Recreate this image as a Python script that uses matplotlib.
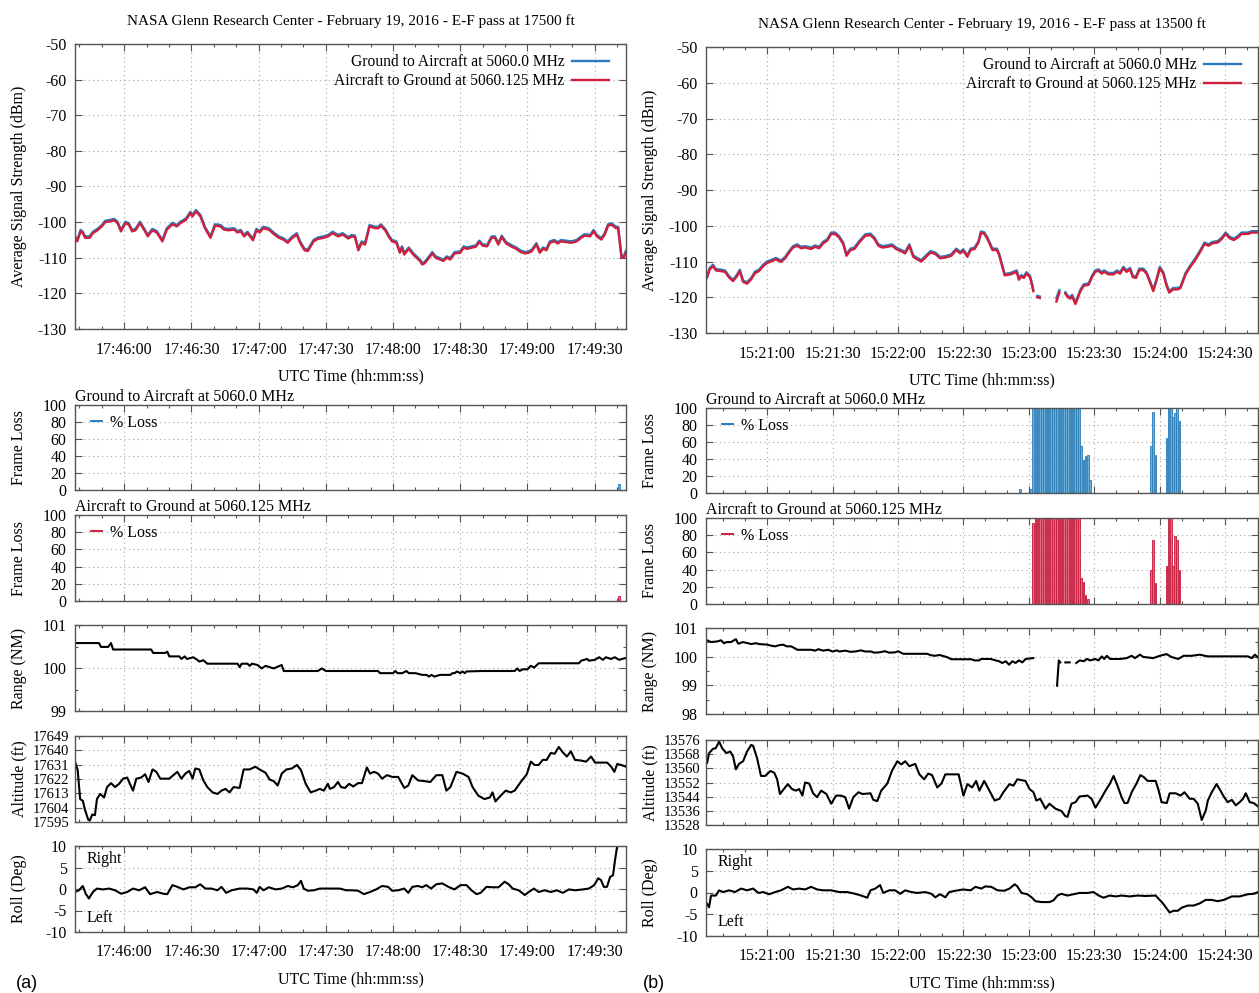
import matplotlib
matplotlib.use("Agg")
import matplotlib.pyplot as plt
from matplotlib.lines import Line2D
from matplotlib.ticker import MultipleLocator, FixedLocator, FuncFormatter, NullFormatter

nan = float("nan")

# ---------------------------------------------------------------------------
# (a) pass at 17500 ft, times in seconds relative to 17:46:00 UTC
# ---------------------------------------------------------------------------
base_a = "17:46:00"
title_a = "NASA Glenn Research Center - February 19, 2016 - E-F pass at 17500 ft"

sig_a_t = [-22, -21, -19.5, -18.5, -17.5, -15.5, -14, -12, -10, -8.5, -6.5, -4.5, -3, -1.5, 0.5, 2, 3.5, 5, 7, 9,
           10.5, 12.5, 14.5, 17, 19, 21.5, 23.5, 25, 27.5, 29.5, 30.5, 32, 34, 36, 38.5, 40.5, 43, 44.5, 46.5, 49,
           50.5, 52, 53.5, 55, 57.5, 59, 60.5, 62, 64.5, 66.5, 69, 71, 73, 74.5, 77, 78.5, 80.5, 82, 84.5, 86.5,
           89, 91, 93, 95.5, 97.5, 100, 101.5, 103, 104.5, 106, 107.5, 109.5, 112, 113.5, 114.5, 116.5, 118, 119.5,
           121.5, 123, 124, 125, 127, 129, 130.5, 132, 133, 134, 135.5, 137.5, 139, 141, 142.5, 144, 145.5, 147.5,
           150, 151.5, 153, 155, 157, 158.5, 160, 162, 164, 165.5, 167, 168.5, 170.5, 173, 175, 177, 179, 180.5,
           182, 184, 185.5, 187, 188.5, 190, 192, 193.5, 195, 197, 199.5, 202, 204, 205.5, 208, 209.5, 211, 213,
           214.5, 216, 217.5, 219.5, 220.5, 222, 223, 224]
sig_a_g2a = [-104.0, -105.0, -102.2, -102.7, -104.0, -104.0, -102.7, -101.9, -100.8, -99.6, -99.4, -99.1, -99.9,
             -102.2, -99.9, -100.3, -102.2, -101.9, -99.9, -101.9, -103.6, -101.9, -102.5, -105.0, -101.7, -100.2,
             -100.8, -99.9, -99.0, -97.1, -98.0, -96.6, -98.0, -101.3, -104.0, -100.6, -100.8, -101.7, -101.9,
             -101.7, -102.5, -102.2, -103.6, -102.7, -104.7, -101.9, -102.5, -101.3, -101.7, -102.8, -104.0, -104.5,
             -105.4, -104.3, -103.1, -105.4, -107.5, -107.7, -105.0, -104.3, -104.0, -103.6, -102.7, -103.6, -103.1,
             -104.2, -103.6, -103.8, -107.5, -105.4, -105.9, -100.8, -101.3, -101.3, -100.6, -101.9, -103.6, -105.0,
             -105.4, -108.2, -106.8, -108.7, -107.1, -108.7, -109.6, -110.5, -111.5, -111.2, -110.1, -108.4, -109.6,
             -110.1, -110.5, -109.6, -110.1, -108.4, -108.2, -106.8, -107.1, -106.8, -106.5, -105.2, -106.2, -106.4,
             -104.0, -104.0, -105.9, -103.8, -105.6, -106.5, -107.1, -108.0, -108.4, -108.2, -107.7, -105.9, -108.2,
             -107.1, -107.5, -105.4, -105.0, -105.6, -105.0, -105.2, -105.4, -105.0, -104.0, -103.4, -103.6, -102.2,
             -103.6, -104.5, -103.1, -100.6, -100.3, -101.3, -101.3, -109.6, -109.6, -108.0]
sig_a_a2g = [-104.4, -105.4, -102.6, -103.1, -104.4, -104.4, -103.1, -102.3, -101.2, -100.0, -99.8, -99.5, -100.3,
             -102.6, -100.3, -100.7, -102.6, -102.3, -100.3, -102.3, -104.0, -102.3, -102.9, -105.4, -102.1, -100.6,
             -101.2, -100.3, -99.4, -97.5, -98.4, -97.0, -98.4, -101.7, -104.4, -101.0, -101.2, -102.1, -102.3,
             -102.1, -102.9, -102.6, -104.0, -103.1, -105.1, -102.3, -102.9, -101.7, -102.1, -103.2, -104.4, -104.9,
             -105.8, -104.7, -103.5, -105.8, -107.9, -108.1, -105.4, -104.7, -104.4, -104.0, -103.1, -104.0, -103.5,
             -104.6, -104.0, -104.2, -107.9, -105.8, -106.3, -101.2, -101.7, -101.7, -101.0, -102.3, -104.0, -105.4,
             -105.8, -108.6, -107.2, -109.1, -107.5, -109.1, -110.0, -110.9, -111.9, -111.6, -110.5, -108.8, -110.0,
             -110.5, -110.9, -110.0, -110.5, -108.8, -108.6, -107.2, -107.5, -107.2, -106.9, -105.6, -106.6, -106.8,
             -104.4, -104.4, -106.3, -104.2, -106.0, -106.9, -107.5, -108.4, -108.8, -108.6, -108.1, -106.3, -108.6,
             -107.5, -107.9, -105.8, -105.4, -106.0, -105.4, -105.6, -105.8, -105.4, -104.4, -103.8, -104.0, -102.6,
             -104.0, -104.9, -103.5, -101.0, -100.7, -101.7, -101.7, -110.0, -110.0, -108.4]

loss_a_g2a_t = [221]
loss_a_g2a = [7]
loss_a_a2g_t = [221]
loss_a_a2g = [6]

rng_a_t = [-22, -11.3, -10.4, -7.2, -5.9, -5, 12, 12.9, 18.3, 19.2, 20.1, 24.6, 25.5, 27, 28, 30.8, 32.6, 33.5,
           35.3, 37.1, 50.6, 51.5, 52.4, 55, 56, 57, 59.5, 61.3, 63.1, 66.7, 70.3, 71.2, 86.4, 88.2, 90, 113.3,
           114.2, 120, 121, 122, 124.1, 126, 127, 130, 133, 135, 136, 137.2, 138.4, 141, 145.6, 146.5, 147.5,
           148.5, 150, 151, 152, 152.8, 160, 174.3, 175.5, 176.5, 177.9, 180, 181.5, 183, 185, 203, 204, 206.6,
           207.5, 210.1, 212, 213.7, 215, 217.3, 219, 220.9, 223.6, 224]
rng_a = [100.58, 100.58, 100.49, 100.49, 100.58, 100.43, 100.43, 100.35, 100.35, 100.38, 100.27, 100.27, 100.21,
         100.27, 100.21, 100.25, 100.19, 100.15, 100.18, 100.10, 100.10, 100.02, 100.10, 100.10, 100.05, 100.10,
         100.07, 99.99, 100.05, 99.99, 100.07, 99.93, 99.93, 99.99, 99.93, 99.93, 99.88, 99.88, 99.93, 99.88, 99.88,
         99.93, 99.88, 99.88, 99.84, 99.84, 99.80, 99.84, 99.80, 99.84, 99.84, 99.88, 99.88, 99.92, 99.88, 99.92,
         99.88, 99.92, 99.93, 99.93, 99.99, 99.93, 99.97, 99.97, 100.05, 100.01, 100.11, 100.11, 100.17, 100.21,
         100.17, 100.19, 100.25, 100.19, 100.25, 100.21, 100.25, 100.19, 100.23, 100.23]

alt_a_t = [-22, -20.8, -19.7, -18.5, -17.6, -16.1, -15.4, -14.3, -13.1, -12.2, -10.8, -9, -7.7, -5.9, -4.1, -2.3,
           -0.5, 1.3, 2.5, 3.9, 5.4, 7.5, 9.3, 10.8, 12.6, 14.3, 16.1, 18.3, 20.1, 21.9, 23.7, 25.5, 27.3, 29, 30.5,
           31.7, 33.5, 35.3, 37.1, 39.4, 41.6, 43.4, 45.2, 47, 48.8, 51.5, 53.3, 55.9, 58.6, 60.4, 63.1, 64.9, 66.7,
           68.5, 70.3, 72.4, 74.8, 77.1, 78.9, 81, 83.2, 85.5, 87.3, 89.1, 90.9, 91.8, 93.6, 95.4, 96.8, 98.6, 100.4,
           102.2, 104.4, 106.1, 108.3, 109.7, 111.5, 113.3, 115.1, 117.3, 119.6, 122.3, 125, 126.8, 128.6, 131.2,
           133.9, 136.6, 139.3, 142, 143.8, 145.6, 148.3, 151, 153.7, 155.5, 158.1, 160.8, 163.2, 164.4, 165.7, 168,
           170.3, 172.5, 174.3, 177, 179.7, 181.5, 183.2, 185, 186.8, 188.6, 190.4, 192.2, 194, 195.8, 197.6, 199.4,
           201.2, 203.9, 206.2, 208.4, 210.2, 212.9, 215.6, 217.4, 218.8, 220.1, 221.9, 224]
alt_a = [17632.9, 17627.6, 17609.4, 17608.3, 17602.9, 17596.5, 17595.9, 17599.7, 17599.3, 17609.4, 17612.6,
         17610.4, 17616.9, 17619.4, 17616.9, 17619.0, 17622.2, 17622.9, 17619.0, 17614.7, 17622.2, 17622.9, 17625.0,
         17620.1, 17628.0, 17626.5, 17622.2, 17622.2, 17622.2, 17624.4, 17626.5, 17622.2, 17625.4, 17627.1, 17622.2,
         17628.6, 17628.0, 17621.1, 17616.9, 17613.6, 17612.6, 17614.7, 17615.8, 17613.6, 17616.9, 17616.4, 17628.0,
         17628.0, 17629.7, 17628.0, 17625.9, 17621.6, 17620.7, 17617.9, 17625.4, 17628.0, 17628.6, 17630.8, 17627.6,
         17619.0, 17613.6, 17614.7, 17615.8, 17614.7, 17619.0, 17615.8, 17616.9, 17620.1, 17616.9, 17616.4, 17619.0,
         17617.3, 17619.4, 17619.4, 17629.3, 17625.4, 17626.5, 17625.4, 17622.2, 17624.4, 17623.3, 17623.3, 17616.4,
         17617.9, 17624.4, 17621.1, 17620.7, 17620.1, 17624.4, 17624.4, 17614.7, 17616.9, 17626.5, 17625.4, 17623.3,
         17616.9, 17611.5, 17609.4, 17610.4, 17613.6, 17607.9, 17611.5, 17614.7, 17613.6, 17614.7, 17620.1, 17625.0,
         17632.9, 17630.8, 17630.8, 17634.0, 17634.0, 17638.3, 17637.9, 17642.1, 17638.7, 17636.1, 17639.4, 17634.0,
         17633.6, 17632.9, 17636.1, 17632.3, 17632.3, 17632.3, 17629.7, 17626.5, 17631.4, 17630.8, 17629.7]
alt_a_ticks = [17595, 17604, 17613, 17622, 17631, 17640, 17649]

roll_a_t = [-22, -20.3, -18.5, -17.2, -15.8, -14, -12.2, -9.5, -6.8, -4.1, -1.4, 1.3, 3.9, 6.6, 9.3, 11.5, 14.7,
            17.4, 19.2, 21.5, 23.7, 26.4, 29, 31.7, 33.9, 36.2, 38.9, 41.6, 43.4, 45.5, 47.9, 51.5, 55, 57.7, 59.2,
            60.4, 62.2, 64.5, 67.6, 70.3, 73, 75.3, 77.5, 78.9, 80.1, 81.9, 84.6, 87.3, 90, 93.6, 96.3, 99, 101.7,
            104.4, 107, 109.7, 112.4, 115.1, 117.8, 119.6, 122.3, 125, 126.8, 128.6, 131.2, 133, 134.8, 137, 139.3,
            142, 144.7, 147.4, 150.1, 152.8, 155, 157.3, 159.1, 161.7, 164.4, 167.1, 169.8, 171.6, 173.4, 176.1,
            178.8, 180.6, 182.9, 185, 187.7, 190.4, 193.1, 195.8, 198.5, 201.2, 204.7, 207.4, 209.8, 211.6, 212.8,
            214.1, 215.5, 216.9, 218.2, 219.1, 220, 220.9]
roll_a = [-0.7, -0.3, 0.7, -1.1, -2.2, -0.7, 0.1, -0.1, 0.1, -0.3, -1.1, -0.7, 0.1, -0.3, 0.4, -1.2, -0.7, -1.1,
          -1.2, 0.9, 0.5, -0.1, 0.4, 0.4, 1.1, 0.1, 0.1, -0.3, 0.5, -0.9, -0.3, 0.1, 0.1, -0.1, -0.9, 0.5, -0.3, 0.4,
          -0.1, 0.1, 0.7, 0.4, 0.9, 1.9, 0.1, -0.4, -0.3, 0.1, 0.1, 0.1, 0.1, -0.3, -0.3, -0.4, -1.2, -0.7, -0.1,
          0.7, 0.5, -0.4, -0.3, 0.1, -0.9, 0.5, 0.7, 0.4, 0.9, 0.1, 1.1, 1.3, 0.5, -0.1, 0.9, 0.9, -0.3, -1.2, -0.9,
          0.5, 0.4, 0.4, 1.7, 1.1, 0.1, -0.3, -1.4, -0.7, 0.1, -0.7, -0.3, -0.7, -0.3, -0.9, -0.1, -0.3, -0.1, 0.1,
          0.9, 2.5, 2.1, 0.5, 0.5, 2.8, 3.2, 6.7, 9.8, 10.6]

# ---------------------------------------------------------------------------
# (b) pass at 13500 ft, times in seconds relative to 15:21:00 UTC
# ---------------------------------------------------------------------------
base_b = "15:21:00"
title_b = "NASA Glenn Research Center - February 19, 2016 - E-F pass at 13500 ft"

sig_b_t = [-27.5, -26.3, -24.8, -23.5, -21, -19.3, -17.4, -15.6, -13.8, -12.5, -11, -9.2, -7.3, -5.5, -3.7, -1.8,
           0, 1.8, 4, 6.4, 8.3, 10.1, 11.9, 13.8, 15.6, 17.4, 20.2, 22, 23.9, 25.7, 27.5, 29.4, 31.2, 33, 34.9,
           36.4, 38.2, 40, 42.2, 45, 47.4, 49.2, 51, 52.9, 55.1, 57.3, 59.1, 61.5, 63.3, 65.2, 67, 68.8, 70.7, 72.5,
           74.9, 77.1, 79.3, 81.7, 84.4, 86.7, 88.5, 89.9, 91.8, 93.3, 95.1, 96.9, 98, 99.5, 101, 103.3, 105.3,
           106.3, 108.9, 111.6, 113.2, 114.4, 115.4, 116.5, 117.7, 118.9, 120.5, 121.5, 122, 123, 123.8, 125, 129,
           132.6, 134, 135, 136.7, 137.8, 139, 139.8, 141.3, 142.3, 143.6, 145.1, 147.4, 148.9, 150.4, 151.9, 153.4,
           154.5, 156.5, 158.8, 160.3, 161.8, 163.3, 164.8, 166.4, 167.6, 169.1, 170.6, 172.4, 173.9, 175.5, 177,
           178.5, 180, 181.6, 183.1, 184.3, 186.1, 188.4, 189.5, 191.8, 194.2, 196.4, 198.3, 200.5, 202.3, 204.2,
           206.5, 208.4, 210.2, 212, 213.9, 215.7, 217.5, 220.3, 222.1, 225]
sig_b_g2a = [-114.1, -111.8, -110.9, -112.1, -112.3, -112.5, -114.1, -115.1, -113.7, -112.3, -115.3, -115.8,
             -114.6, -112.8, -112.3, -110.9, -110.0, -109.6, -109.0, -109.7, -108.7, -107.1, -105.7, -105.2, -105.9,
             -105.7, -106.1, -105.5, -105.9, -104.5, -103.8, -101.9, -101.9, -102.9, -104.7, -108.0, -106.4, -106.1,
             -104.3, -102.4, -102.2, -103.3, -105.2, -105.7, -105.5, -105.2, -106.1, -106.8, -107.3, -105.2, -108.3,
             -109.0, -109.6, -108.5, -107.1, -107.5, -108.7, -108.5, -108.0, -106.4, -107.3, -106.6, -108.3, -106.4,
             -106.1, -104.3, -101.6, -101.8, -103.3, -106.4, -106.4, -107.7, -113.5, -113.2, -112.8, -112.5, -114.7,
             -113.8, -114.2, -113.0, -114.0, -116.4, -117.9, nan, -119.6, -119.8, nan, -120.2, -118.0, nan, -118.6,
             -119.6, -120.0, -119.3, -121.5, -120.0, -117.9, -116.4, -116.1, -114.0, -112.5, -112.2, -113.0, -112.5,
             -113.2, -113.2, -112.5, -113.0, -111.5, -112.5, -111.8, -114.0, -114.2, -112.0, -112.0, -113.0, -115.4,
             -117.9, -114.9, -111.5, -113.0, -116.4, -118.3, -117.4, -117.4, -117.0, -113.2, -110.9, -109.0, -107.1,
             -104.7, -105.2, -104.5, -104.3, -103.3, -101.9, -103.1, -103.6, -102.9, -101.9, -101.9, -101.5, -101.5]
sig_b_a2g = [-114.5, -112.2, -111.3, -112.5, -112.7, -112.9, -114.5, -115.5, -114.1, -112.7, -115.7, -116.2,
             -115.0, -113.2, -112.7, -111.3, -110.4, -110.0, -109.4, -110.1, -109.1, -107.5, -106.1, -105.6, -106.3,
             -106.1, -106.5, -105.9, -106.3, -104.9, -104.2, -102.3, -102.3, -103.3, -105.1, -108.4, -106.8, -106.5,
             -104.7, -102.8, -102.6, -103.7, -105.6, -106.1, -105.9, -105.6, -106.5, -107.2, -107.7, -105.6, -108.7,
             -109.4, -110.0, -108.9, -107.5, -107.9, -109.1, -108.9, -108.4, -106.8, -107.7, -107.0, -108.7, -106.8,
             -106.5, -104.7, -102.0, -102.2, -103.7, -106.8, -106.8, -108.1, -113.9, -113.6, -113.2, -112.9, -115.1,
             -114.2, -114.6, -113.4, -114.4, -116.8, -118.3, nan, -120.0, -120.2, nan, -121.2, -118.6, nan, -119.0,
             -120.0, -120.4, -119.7, -121.9, -120.4, -118.3, -116.8, -116.5, -114.4, -112.9, -112.6, -113.4, -112.9,
             -113.6, -113.6, -112.9, -113.4, -111.9, -112.9, -112.2, -114.4, -114.6, -112.4, -112.4, -113.4, -115.8,
             -118.3, -115.3, -111.9, -113.4, -116.8, -118.7, -117.8, -117.8, -117.4, -113.6, -111.3, -109.4, -107.5,
             -105.1, -105.6, -104.9, -104.7, -103.7, -102.3, -103.5, -104.0, -103.3, -102.3, -102.3, -101.9, -101.9]

loss_b_g2a_t = [116, 121, 122, 123, 124, 125, 126, 127, 128, 129, 130, 131, 132, 133, 134, 135, 136, 137, 138, 139,
                140, 141, 142, 143, 144, 145, 146, 147, 148, 176, 177, 178, 183, 184, 185, 186, 187, 188, 189]
loss_b_g2a = [5, 5, 100, 100, 100, 100, 100, 100, 100, 100, 100, 100, 100, 100, 100, 100, 100, 100, 100, 100,
              100, 100, 100, 100, 55, 39, 44, 45, 15, 55, 95, 45, 65, 100, 100, 90, 94, 100, 85]
loss_b_a2g_t = [122, 123, 124, 125, 126, 127, 128, 129, 130, 131, 132, 133, 134, 135, 136, 137, 138, 139, 140,
                141, 142, 143, 144, 145, 146, 147, 176, 177, 178, 183, 184, 185, 186, 187, 188, 189]
loss_b_a2g = [94, 100, 100, 100, 100, 100, 100, 100, 100, 100, 100, 100, 100, 100, 100, 100, 100, 100, 100,
              100, 100, 100, 30, 26, 11, 6, 40, 74, 25, 44, 100, 100, 44, 79, 74, 40]

rng_b_t = [-27.5, -25.7, -22.9, -21.1, -19.8, -18.4, -16.5, -14.3, -13.2, -11, -7.3, -5, -3.7, 0, 2, 3.7, 5.5,
           7.3, 9, 11, 12.5, 13.8, 20.2, 22, 23.5, 25.7, 28, 30, 32, 33, 36, 38, 40.4, 43, 45, 47.7, 49, 51.4, 54,
           56, 58.7, 60, 62.4, 73.4, 75, 77.1, 79, 82.6, 84.4, 93.6, 95, 97.3, 98, 102.5, 104.8, 106.3, 107.8,
           109.4, 110.9, 112.4, 113.9, 115.4, 117, 118.5, 122, 127, 132.9, 133.7, 134.4, 135.5, 136.7, 138.7, 140,
           141.7, 143.3, 145.1, 146.6, 148.1, 150.4, 151.9, 153.4, 154.5, 155.7, 157.2, 158.8, 161.8, 164.8, 167.1,
           168.6, 170.9, 172.4, 177, 180, 183.1, 185.3, 188.4, 190.9, 194.6, 198.3, 201.9, 205.6, 213, 220.3,
           222.1, 223.6, 225]
rng_b = [100.57, 100.51, 100.53, 100.57, 100.47, 100.51, 100.51, 100.61, 100.45, 100.51, 100.44, 100.47, 100.44,
         100.42, 100.38, 100.36, 100.40, 100.42, 100.36, 100.36, 100.30, 100.24, 100.24, 100.21, 100.26, 100.21,
         100.24, 100.18, 100.22, 100.18, 100.21, 100.17, 100.18, 100.22, 100.18, 100.18, 100.14, 100.15, 100.19,
         100.14, 100.15, 100.19, 100.10, 100.10, 100.05, 100.03, 100.06, 99.98, 99.91, 99.91, 99.87, 99.87, 99.92,
         99.92, 99.87, 99.84, 99.78, 99.84, 99.72, 99.84, 99.78, 99.87, 99.80, 99.92, 99.95, nan, 98.99, 99.87,
         99.80, nan, 99.80, 99.80, nan, 99.78, 99.87, 99.84, 99.92, 99.87, 99.92, 99.87, 100.01, 99.92, 100.03,
         99.92, 99.92, 99.92, 99.95, 100.03, 99.95, 100.07, 99.99, 99.95, 100.03, 100.09, 99.99, 99.92, 100.03,
         100.03, 100.07, 100.01, 100.01, 100.01, 100.01, 99.95, 100.07, 99.97]

alt_b_t = [-27.5, -26.6, -24.8, -23.5, -22, -20.6, -18.7, -16.9, -15.6, -14.3, -12.9, -11, -9.2, -7.3, -6.4, -4.6,
           -2.8, -0.9, 1.5, 3.3, 4.6, 5.9, 7.7, 9.5, 11.4, 13.2, 14.7, 16.2, 17.4, 19.3, 21.1, 22.9, 24.8, 27.2,
           29.4, 31.6, 33.9, 35.8, 37.6, 39.5, 41.9, 43.7, 47.4, 48.7, 50.5, 52.3, 55.1, 57.3, 59.7, 61.5, 63.3,
           65.2, 67.9, 69.8, 72, 73.8, 75.6, 78, 79.9, 81.7, 84.4, 87.8, 90, 91.8, 94, 95.8, 97.3, 99.5, 101.9,
           104.3, 106.5, 108.3, 111.1, 112.9, 114.7, 118.4, 120.3, 122.1, 123.4, 125.2, 127.6, 129.4, 132.2, 134.9,
           136.7, 137.7, 139.5, 141.4, 143.2, 146.9, 148.7, 150.5, 152.7, 155.1, 157, 158.8, 160.6, 162.5, 163.8,
           165.2, 167.1, 169.3, 171.1, 172.6, 174.4, 178.1, 179.5, 180.8, 183.2, 184.5, 187.3, 189.5, 191.3, 193.7,
           195.5, 197.4, 199.2, 201.1, 202, 203.8, 206, 207.8, 209.3, 211.1, 213, 214.8, 216.6, 218.1, 219.4, 221.2,
           223, 225]
alt_b = [13563.1, 13568.6, 13571.0, 13571.4, 13575.1, 13571.4, 13568.6, 13569.5, 13566.8, 13559.4, 13562.5,
         13564.0, 13569.5, 13573.2, 13572.7, 13565.8, 13555.7, 13555.7, 13558.5, 13557.5, 13553.8, 13545.5, 13548.3,
         13551.1, 13548.3, 13547.4, 13548.3, 13544.6, 13552.0, 13551.4, 13545.9, 13543.7, 13547.4, 13545.5, 13540.0,
         13544.6, 13544.6, 13543.7, 13537.2, 13543.7, 13546.5, 13545.5, 13545.9, 13542.2, 13541.5, 13547.4, 13551.4,
         13558.8, 13564.0, 13562.2, 13564.0, 13561.2, 13562.5, 13556.6, 13553.8, 13557.0, 13556.2, 13549.2, 13551.4,
         13556.6, 13556.6, 13556.6, 13544.6, 13551.1, 13549.2, 13552.9, 13547.4, 13552.9, 13547.4, 13541.8, 13542.8,
         13546.5, 13551.1, 13550.2, 13553.8, 13552.9, 13548.3, 13546.5, 13541.8, 13542.8, 13537.2, 13540.0, 13537.2,
         13535.9, 13533.0, 13532.6, 13540.0, 13540.9, 13544.1, 13544.6, 13542.8, 13537.8, 13542.2, 13547.4, 13551.1,
         13555.7, 13550.2, 13543.7, 13540.4, 13540.4, 13546.5, 13551.4, 13556.2, 13555.1, 13552.9, 13552.9, 13547.4,
         13540.9, 13540.4, 13545.9, 13545.9, 13544.6, 13546.5, 13542.8, 13542.8, 13540.0, 13530.8, 13536.3, 13541.8,
         13546.5, 13551.1, 13547.4, 13544.1, 13540.9, 13542.2, 13539.1, 13540.9, 13542.8, 13545.9, 13540.9, 13540.4,
         13538.5]
alt_b_ticks = [13528, 13536, 13544, 13552, 13560, 13568, 13576]

roll_b_t = [-27.5, -26.6, -25.7, -23.5, -22, -20.2, -17.4, -14.7, -11.9, -9.2, -6.4, -4, -1.8, 0.9, 3.7, 6.4, 9.5,
            11.9, 14.7, 17.4, 20.2, 22.9, 25.7, 29.4, 33, 36.7, 40.4, 43.1, 45.9, 47.4, 49.6, 51.8, 53.2, 56, 58.7,
            61, 63.3, 66.1, 68.8, 72.5, 75.3, 77.1, 79.3, 81.7, 83.5, 86.3, 89.9, 93.3, 95.5, 98.2, 100, 102.8,
            105.6, 108.7, 111.1, 113.5, 114.7, 116.6, 119.3, 121.2, 123, 125.8, 129.4, 131.3, 133.1, 134.9, 137.7,
            140.4, 143.2, 146.9, 149.6, 152, 154.2, 157, 159.7, 162.5, 166.1, 169.8, 173.5, 178.1, 181.4, 184.5,
            186.3, 188.2, 190, 192.8, 195.5, 198.3, 201, 203.8, 206.5, 209.3, 213, 216.6, 220.3, 223, 225]
roll_b = [-2.6, -3.4, -0.7, -0.7, 0.5, 0.1, 0.5, 0.1, 0.9, 0.5, 0.9, -0.1, 0.1, -0.4, 0.1, 0.5, 1.3, 0.7, 0.9, 0.7,
          1.3, 0.7, 0.5, 0.5, 0.1, 0.1, -0.3, -0.7, -1.2, 0.5, 0.9, 1.7, -0.1, 0.5, 0.5, -0.3, 0.5, 0.1, -0.1, 0.1,
          -0.3, -1.1, -0.4, -1.1, 0.1, 0.4, 0.7, 0.5, 1.3, 0.9, 1.4, 1.3, 0.5, 0.4, 0.9, 1.9, 1.4, -0.1, -0.4, -1.1,
          -2.0, -2.2, -2.2, -1.8, -0.7, -0.3, -0.7, -0.4, -0.1, -0.1, 0.1, -0.7, -1.2, -0.7, -0.9, -0.7, -0.9, -0.7,
          -0.8, -0.7, -2.5, -4.6, -4.2, -4.2, -3.5, -3.0, -3.0, -2.5, -1.7, -1.7, -2.0, -1.7, -0.9, -0.9, -0.4, -0.3,
          0.1]

label_g2a = "Ground to Aircraft at 5060.0 MHz"
label_a2g = "Aircraft to Ground at 5060.125 MHz"
xlabel = "UTC Time (hh:mm:ss)"

# ---------------------------------------------------------------------------
# styling
# ---------------------------------------------------------------------------
plt.rcParams["font.family"] = ["Liberation Serif", "DejaVu Serif"]
plt.rcParams["font.size"] = 11.5
plt.rcParams["axes.unicode_minus"] = False

BLUE = "#2a7bbd"
RED = "#d01f3c"
BLUE_FACE, BLUE_EDGE = "#6fb0da", "#2a7cb6"
RED_FACE, RED_EDGE = "#e46a82", "#c3183c"
SPINE = "#555555"
GRID = "#a8a8a8"

W, H = 1259, 993
fig = plt.figure(figsize=(W / 100, H / 100), dpi=100)


def box(x0, y0, x1, y1):
    return fig.add_axes([x0 / W, 1 - y1 / H, (x1 - x0) / W, (y1 - y0) / H])


def to_seconds(hms):
    h, m, s = (int(p) for p in hms.split(":"))
    return h * 3600 + m * 60 + s


def clock_formatter(base):
    b = to_seconds(base)

    def fmt(x, pos):
        s = int(round(b + x))
        return f"{s // 3600:02d}:{(s % 3600) // 60:02d}:{s % 60:02d}"
    return FuncFormatter(fmt)


def style(ax, base, xlim, show_time):
    ax.set_xlim(*xlim)
    ax.xaxis.set_major_locator(MultipleLocator(30))
    ax.xaxis.set_minor_locator(MultipleLocator(10))
    ax.xaxis.set_major_formatter(clock_formatter(base) if show_time else NullFormatter())
    ax.tick_params(axis="both", which="both", direction="in", top=True, right=True,
                   color=SPINE, labelcolor="black")
    ax.tick_params(which="major", length=5, width=0.8)
    ax.tick_params(which="minor", length=2.5, width=0.8)
    ax.tick_params(axis="x", pad=9)
    ax.tick_params(axis="y", pad=6)
    ax.grid(True, which="major", color=GRID, linestyle=(0, (1, 3)), linewidth=0.8)
    ax.set_axisbelow(True)
    for sp in ax.spines.values():
        sp.set_color(SPINE)
        sp.set_linewidth(1.0)


def column(x0, x1, rows, base, xlim, title, sig_t, sig_g, sig_r,
           lg_t, lg, la_t, la, r_t, r, r_lim, r_ticks,
           a_t, a, a_ticks, ro_t, ro, tag, tag_x):
    label_x = -48 / (x1 - x0)

    # signal strength
    ax = box(x0, rows[0][0], x1, rows[0][1])
    style(ax, base, xlim, True)
    ax.plot(sig_t, sig_g, color=BLUE, lw=1.7, label=label_g2a, solid_joinstyle="round")
    ax.plot(sig_t, sig_r, color=RED, lw=1.7, label=label_a2g, solid_joinstyle="round")
    ax.set_ylim(-130, -50)
    ax.yaxis.set_major_locator(MultipleLocator(10))
    ax.set_title(title, fontsize=11, pad=14)
    ax.set_ylabel("Average Signal Strength (dBm)")
    ax.yaxis.set_label_coords(label_x, 0.5)
    ax.set_xlabel(xlabel, labelpad=8)
    ax.legend(loc="upper right", bbox_to_anchor=(1 - 7 / (x1 - x0), 1), frameon=False,
              markerfirst=False, handlelength=2.4, handletextpad=0.45,
              borderaxespad=0.25, labelspacing=0.2, fontsize=11.2)

    # frame loss panels
    for (yt, yb), bt, bv, face, edge, color, name in (
            (rows[1], lg_t, lg, BLUE_FACE, BLUE_EDGE, BLUE, label_g2a),
            (rows[2], la_t, la, RED_FACE, RED_EDGE, RED, label_a2g)):
        ax = box(x0, yt, x1, yb)
        style(ax, base, xlim, False)
        ax.bar(bt, bv, width=0.75, color=face, edgecolor=edge, linewidth=0.6)
        ax.set_ylim(0, 100)
        ax.yaxis.set_major_locator(MultipleLocator(20))
        ax.set_ylabel("Frame Loss")
        ax.yaxis.set_label_coords(label_x, 0.5)
        ax.text(0, 1.005, name, transform=ax.transAxes, ha="left", va="bottom")
        ax.legend([Line2D([], [], color=color, lw=1.4)], ["% Loss"], loc="upper left",
                  bbox_to_anchor=(6 / (x1 - x0), 1), frameon=False, handlelength=0.7,
                  handletextpad=0.5, borderaxespad=0.2)

    # range
    ax = box(x0, rows[3][0], x1, rows[3][1])
    style(ax, base, xlim, False)
    ax.plot(r_t, r, color="black", lw=1.5)
    ax.set_ylim(*r_lim)
    ax.yaxis.set_major_locator(FixedLocator(r_ticks))
    ax.yaxis.set_minor_locator(MultipleLocator(0.5))
    ax.set_ylabel("Range (NM)")
    ax.yaxis.set_label_coords(label_x, 0.5)

    # altitude
    ax = box(x0, rows[4][0], x1, rows[4][1])
    style(ax, base, xlim, False)
    ax.plot(a_t, a, color="black", lw=1.5)
    ax.set_ylim(a_ticks[0], a_ticks[-1])
    ax.yaxis.set_major_locator(FixedLocator(a_ticks))
    ax.tick_params(axis="y", labelsize=10.5, pad=4)
    ax.set_ylabel("Altitude (ft)")
    ax.yaxis.set_label_coords(label_x, 0.5)

    # roll
    ax = box(x0, rows[5][0], x1, rows[5][1])
    style(ax, base, xlim, True)
    ax.plot(ro_t, ro, color="black", lw=1.5)
    ax.set_ylim(-10, 10)
    ax.yaxis.set_major_locator(MultipleLocator(5))
    ax.set_ylabel("Roll (Deg)")
    ax.yaxis.set_label_coords(label_x, 0.5)
    ax.set_xlabel(xlabel, labelpad=8)
    ax.text(12 / (x1 - x0), 0.85, "Right", transform=ax.transAxes, ha="left", va="center")
    ax.text(12 / (x1 - x0), 0.16, "Left", transform=ax.transAxes, ha="left", va="center")

    fig.text(tag_x / W, 1 - 983 / H, tag, ha="center", va="center",
             family=["Liberation Sans", "DejaVu Sans"], fontsize=13)


rows_a = [(44, 329), (405, 490), (515, 601), (625, 711), (736, 822), (846, 932)]
rows_b = [(47, 333), (408, 493), (518, 604), (628, 714), (740, 825), (849, 936)]

column(75, 626, rows_a, base_a, (-22, 224), title_a, sig_a_t, sig_a_g2a, sig_a_a2g,
       loss_a_g2a_t, loss_a_g2a, loss_a_a2g_t, loss_a_a2g, rng_a_t, rng_a, (99, 101), [99, 100, 101],
       alt_a_t, alt_a, alt_a_ticks, roll_a_t, roll_a, "(a)", 27)
column(706, 1258, rows_b, base_b, (-28, 225), title_b, sig_b_t, sig_b_g2a, sig_b_a2g,
       loss_b_g2a_t, loss_b_g2a, loss_b_a2g_t, loss_b_a2g, rng_b_t, rng_b, (98, 101), [98, 99, 100, 101],
       alt_b_t, alt_b, alt_b_ticks, roll_b_t, roll_b, "(b)", 654)

fig.savefig("out.png", dpi=100)
